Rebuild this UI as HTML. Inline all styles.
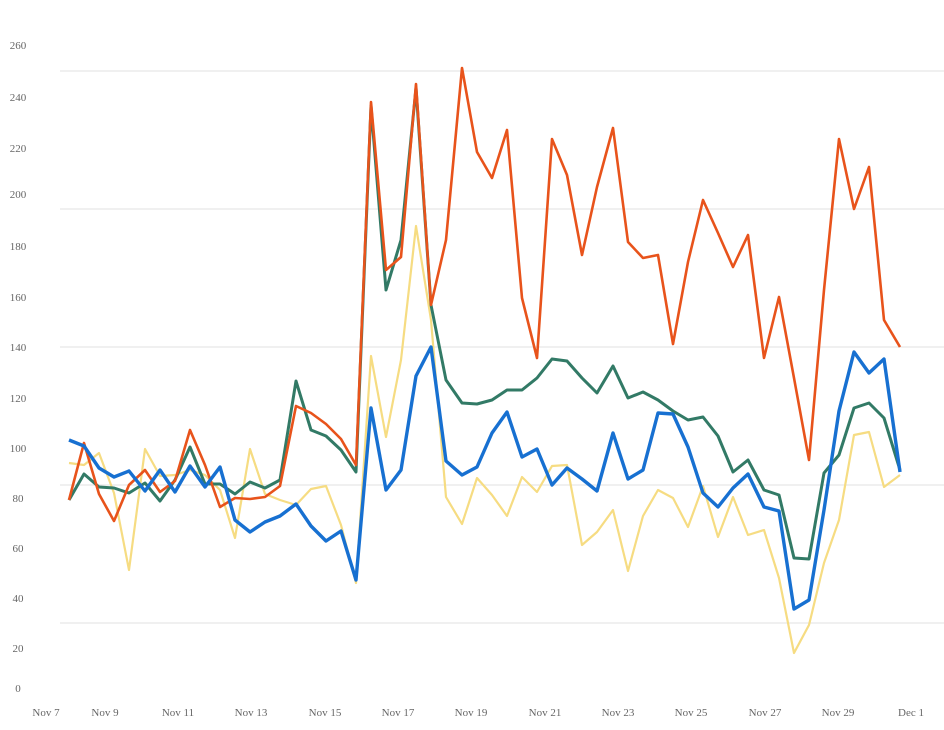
<!DOCTYPE html>
<html><head><meta charset="utf-8"><style>
html,body{margin:0;padding:0;background:#fff;}
svg{display:block;}
text{font-family:"Liberation Serif",serif;font-size:11px;fill:#666;}
</style></head><body>
<svg width="944" height="730" xmlns="http://www.w3.org/2000/svg">
<g stroke="#e8e8e8" stroke-width="1.2">
<line x1="60" y1="71" x2="944" y2="71"/>
<line x1="60" y1="209" x2="944" y2="209"/>
<line x1="60" y1="347" x2="944" y2="347"/>
<line x1="60" y1="485" x2="944" y2="485"/>
<line x1="60" y1="623" x2="944" y2="623"/>
</g>
<g text-anchor="middle">
<text x="18" y="49">260</text><text x="18" y="101">240</text><text x="18" y="152">220</text>
<text x="18" y="198">200</text><text x="18" y="250">180</text><text x="18" y="301">160</text>
<text x="18" y="351">140</text><text x="18" y="402">120</text><text x="18" y="452">100</text>
<text x="18" y="502">80</text><text x="18" y="552">60</text><text x="18" y="602">40</text>
<text x="18" y="652">20</text><text x="18" y="692">0</text>
<text x="46" y="716">Nov 7</text><text x="105" y="716">Nov 9</text><text x="178" y="716">Nov 11</text>
<text x="251" y="716">Nov 13</text><text x="325" y="716">Nov 15</text><text x="398" y="716">Nov 17</text>
<text x="471" y="716">Nov 19</text><text x="545" y="716">Nov 21</text><text x="618" y="716">Nov 23</text>
<text x="691" y="716">Nov 25</text><text x="765" y="716">Nov 27</text><text x="838" y="716">Nov 29</text>
<text x="911" y="716">Dec 1</text>
</g>
<g fill="none" stroke-linejoin="round">
<polyline stroke="#f6dc82" stroke-width="2.2" points="69,463 84,465 99,453 114,493 129,570 145,449 160,476 175,475 190,470 205,475 220,490 235,538 250,449 265,494 280,500 296,505 311,489 326,486 341,525 356,583 371,356 386,437 401,360 416,226 431,320 446,497 462,524 477,478 492,495 507,516 522,477 537,492 552,466 567,465 582,545 597,532 613,510 628,571 643,516 658,490 673,498 688,527 703,486 718,537 733,497 748,535 764,530 779,578 794,653 809,625 824,563 839,520 854,435 869,432 884,487 900,475"/>
<polyline stroke="#327a66" stroke-width="3" points="69,500 84,474 99,487 114,488 129,493 145,483 160,501 175,480 190,447 205,484 220,484 235,494 250,482 265,488 280,480 296,381 311,430 326,436 341,450 356,472 371,106 386,290 401,240 416,88 431,305 446,380 462,403 477,404 492,400 507,390 522,390 537,378 552,359 567,361 582,378 597,393 613,366 628,398 643,392 658,400 673,411 688,420 703,417 718,436 733,472 748,460 764,490 779,495 794,558 809,559 824,473 839,455 854,408 869,403 884,418 900,470"/>
<polyline stroke="#e8531b" stroke-width="2.6" points="69,500 84,443 99,494 114,521 129,485 145,470 160,492 175,481 190,430 205,465 220,507 235,498 250,499 265,497 280,486 296,406 311,413 326,424 341,439 356,465 371,102 386,270 401,257 416,84 431,305 446,240 462,68 477,152 492,178 507,130 522,298 537,358 552,139 567,175 582,255 597,187 613,128 628,242 643,258 658,255 673,344 688,262 703,200 718,233 733,267 748,235 764,358 779,297 794,378 809,460 824,290 839,139 854,209 869,167 884,320 900,347"/>
<polyline stroke="#1770d1" stroke-width="3.4" points="69,440 84,446 99,468 114,477 129,471 145,491 160,470 175,492 190,466 205,487 220,467 235,520 250,532 265,522 280,516 296,504 311,526 326,541 341,531 356,580 371,408 386,490 401,470 416,376 431,347 446,461 462,475 477,467 492,433 507,412 522,457 537,449 552,485 567,468 582,479 597,491 613,433 628,479 643,470 658,413 673,414 688,447 703,493 718,507 733,488 748,474 764,507 779,511 794,609 809,600 824,510 839,411 854,352 869,373 884,359 900,472"/>
</g>
</svg>
</body></html>
